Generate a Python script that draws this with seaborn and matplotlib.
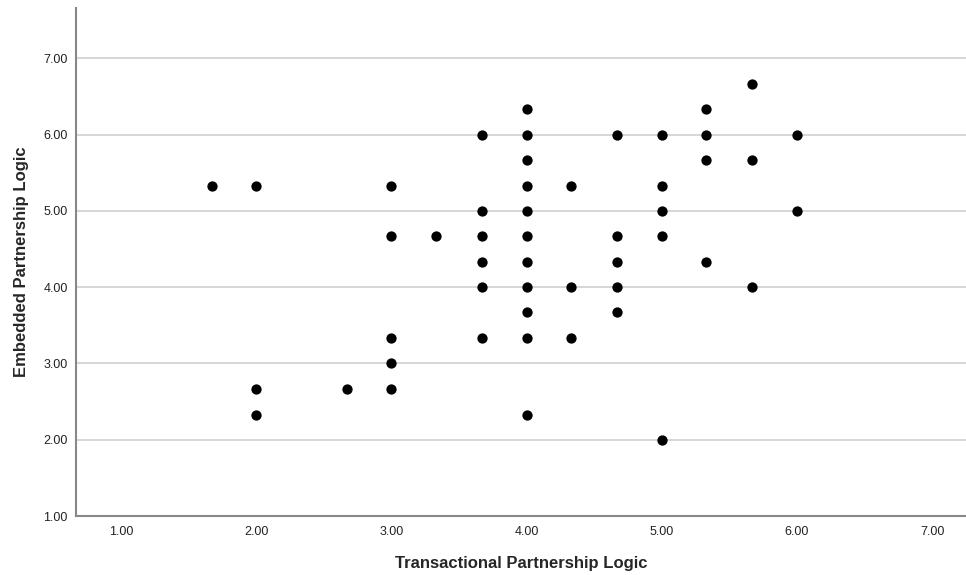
import matplotlib
matplotlib.use("Agg")
import matplotlib.pyplot as plt
import seaborn as sns
import pandas as pd

# scores (thirds of a point)
transactional = [1.67, 2.00, 2.00, 2.00, 2.67,
                 3.00, 3.00, 3.00, 3.00, 3.00, 3.33,
                 3.67, 3.67, 3.67, 3.67, 3.67, 3.67,
                 4.00, 4.00, 4.00, 4.00, 4.00, 4.00, 4.00, 4.00, 4.00, 4.00, 4.00,
                 4.33, 4.33, 4.33,
                 4.67, 4.67, 4.67, 4.67, 4.67,
                 5.00, 5.00, 5.00, 5.00, 5.00,
                 5.33, 5.33, 5.33, 5.33,
                 5.67, 5.67, 5.67,
                 6.00, 6.00]
embedded = [5.33, 5.33, 2.67, 2.33, 2.67,
            5.33, 4.67, 3.33, 3.00, 2.67, 4.67,
            6.00, 5.00, 4.67, 4.33, 4.00, 3.33,
            6.33, 6.00, 5.67, 5.33, 5.00, 4.67, 4.33, 4.00, 3.67, 3.33, 2.33,
            5.33, 4.00, 3.33,
            6.00, 4.67, 4.33, 4.00, 3.67,
            6.00, 5.33, 5.00, 4.67, 2.00,
            6.33, 6.00, 5.67, 4.33,
            6.67, 5.67, 4.00,
            6.00, 5.00]
ticks = [1, 2, 3, 4, 5, 6, 7]
tick_labels = ["1.00", "2.00", "3.00", "4.00", "5.00", "6.00", "7.00"]

df = pd.DataFrame({"Transactional Partnership Logic": transactional,
                   "Embedded Partnership Logic": embedded})

sns.set_style("white")
plt.rcParams["font.family"] = ["Liberation Sans", "DejaVu Sans"]

fig = plt.figure(figsize=(9.66, 5.75), dpi=100)
ax = fig.add_axes([0.0787, 0.1026, 0.9213, 0.8834])

ax.grid(axis="y", color="#cfcfcf", linewidth=1.2)
ax.set_axisbelow(True)

sns.scatterplot(data=df, x="Transactional Partnership Logic",
                y="Embedded Partnership Logic", ax=ax,
                color="black", s=55, edgecolor="black", linewidth=0, zorder=3)

ax.set_xlim(0.667, 7.25)
ax.set_ylim(1.0, 7.66)
ax.set_xticks(ticks)
ax.set_xticklabels(tick_labels)
ax.set_yticks(ticks)
ax.set_yticklabels(tick_labels)
ax.tick_params(axis="both", length=0, labelsize=9, colors="#222222")
ax.tick_params(axis="x", pad=7)
ax.tick_params(axis="y", pad=6)

ax.set_xlabel("Transactional Partnership Logic", fontsize=12, fontweight="bold",
              labelpad=13)
ax.set_ylabel("Embedded Partnership Logic", fontsize=12, fontweight="bold",
              labelpad=10)

for side in ["top", "right"]:
    ax.spines[side].set_visible(False)
for side in ["left", "bottom"]:
    ax.spines[side].set_color("#888888")
    ax.spines[side].set_linewidth(1.5)

fig.savefig("out.png", dpi=100)
